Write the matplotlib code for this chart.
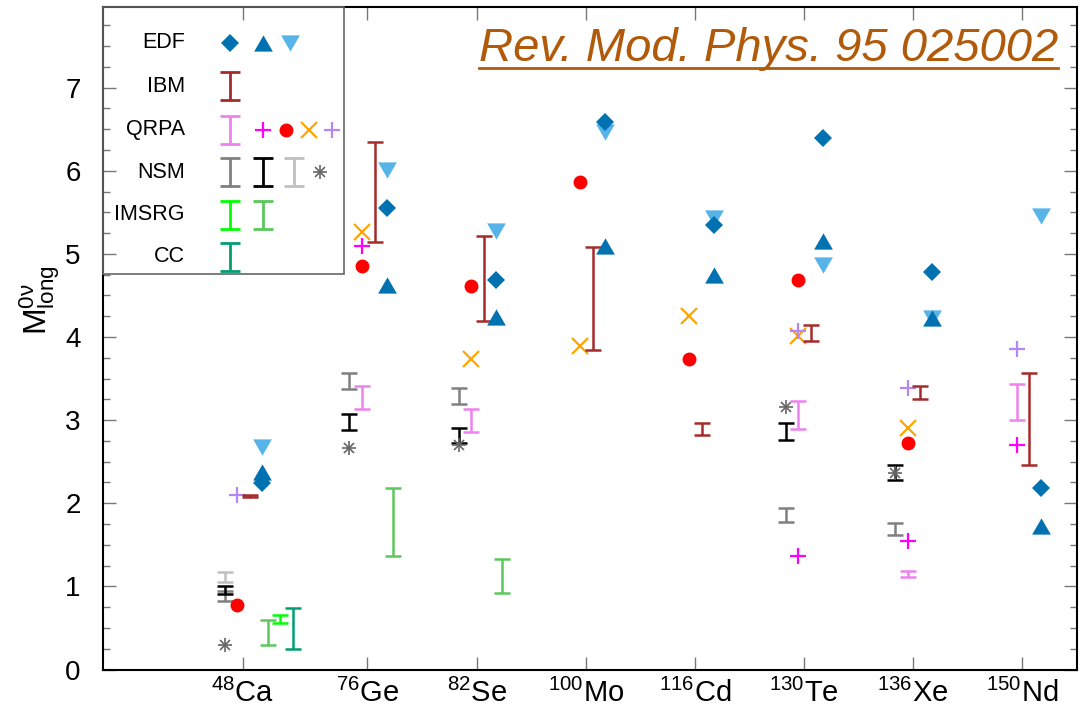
import numpy as np
import matplotlib
matplotlib.use('Agg')
import matplotlib.pyplot as plt
from matplotlib.path import Path
from matplotlib.patches import Rectangle
from matplotlib.ticker import MultipleLocator
from matplotlib.lines import Line2D

plt.rcParams['font.family'] = ['Liberation Sans', 'DejaVu Sans']
plt.rcParams['mathtext.fontset'] = 'custom'
plt.rcParams['mathtext.rm'] = 'Liberation Sans'
plt.rcParams['mathtext.it'] = 'Liberation Sans:italic'

nan = np.nan

# nuclei, left to right
elements = ['Ca', 'Ge', 'Se', 'Mo', 'Cd', 'Te', 'Xe', 'Nd']
masses = ['48', '76', '82', '100', '116', '130', '136', '150']

# EDF
edf_diamond = [2.24, 5.55, 4.68, 6.59, 5.35, 6.40, 4.78, 2.18]
edf_up = [2.38, 4.63, 4.24, 5.10, 4.75, 5.15, 4.23, 1.73]
edf_down = [2.68, 6.01, 5.28, 6.47, 5.43, 4.87, 4.23, 5.45]

# IBM (ranges)
ibm_lo = [2.08, 5.14, 4.19, 3.84, 2.82, 3.95, 3.25, 2.46]
ibm_hi = [2.10, 6.34, 5.21, 5.08, 2.97, 4.15, 3.41, 3.57]

# QRPA
qrpa_lo = [nan, 3.13, 2.86, nan, nan, 2.89, 1.11, 3.00]
qrpa_hi = [nan, 3.41, 3.13, nan, nan, 3.23, 1.19, 3.43]
qrpa_plus = [nan, 5.09, nan, nan, nan, 1.37, 1.54, 2.70]
qrpa_dot = [0.77, 4.85, 4.61, 5.87, 3.73, 4.68, 2.72, nan]
qrpa_cross = [nan, 5.26, 3.73, 3.89, 4.25, 4.01, 2.90, nan]
qrpa_plus2 = [2.10, nan, nan, nan, nan, 4.07, 3.39, 3.85]

# NSM
nsm_grey_lo = [0.82, 3.37, 3.19, nan, nan, 1.78, 1.62, nan]
nsm_grey_hi = [0.95, 3.57, 3.39, nan, nan, 1.94, 1.76, nan]
nsm_black_lo = [0.91, 2.88, 2.73, nan, nan, 2.76, 2.28, nan]
nsm_black_hi = [1.01, 3.07, 2.90, nan, nan, 2.96, 2.46, nan]
nsm_silver_lo = [1.05, nan, nan, nan, nan, nan, nan, nan]
nsm_silver_hi = [1.17, nan, nan, nan, nan, nan, nan, nan]
nsm_star = [0.29, 2.66, 2.70, nan, nan, 3.16, 2.36, nan]

# IMSRG
imsrg_lo = [0.29, 1.37, 0.92, nan, nan, nan, nan, nan]
imsrg_hi = [0.59, 2.18, 1.33, nan, nan, nan, nan, nan]
imsrg2_lo = [0.56, nan, nan, nan, nan, nan, nan, nan]
imsrg2_hi = [0.65, nan, nan, nan, nan, nan, nan, nan]

# CC
cc_lo = [0.25, nan, nan, nan, nan, nan, nan, nan]
cc_hi = [0.74, nan, nan, nan, nan, nan, nan, nan]

# layout
tick_x = np.array([1.28, 2.424, 3.424, 4.424, 5.424, 6.424, 7.424, 8.424])
off_nsm, off_qrpa, off_ibm, off_edf = -0.165, -0.05, 0.065, 0.175
off_imsrg, off_imsrg2, off_cc = 0.235, 0.342, 0.459

C_EDF = '#0072B2'
C_EDF2 = '#56B4E9'
C_IBM = '#A52A2A'
C_QBAR = '#EE82EE'
C_MAG = '#FF00FF'
C_RED = '#FF0000'
C_ORA = '#FFA500'
C_LAV = '#B586F5'
C_GREY = '#808080'
C_SILVER = '#C0C0C0'
C_STAR = '#666666'
C_LIME = '#00FF00'
C_GREEN = '#5CC85C'
C_CC = '#009E73'

tri_up = Path([(-1, -0.866), (1, -0.866), (0, 0.866), (-1, -0.866)])
tri_down = Path([(-1, 0.866), (1, 0.866), (0, -0.866), (-1, 0.866)])
ibar = Path([(-1, -1.35), (1, -1.35), (0, -1.35), (0, 1.35), (-1, 1.35), (1, 1.35)],
            [Path.MOVETO, Path.LINETO, Path.MOVETO, Path.LINETO, Path.MOVETO, Path.LINETO])

fig = plt.figure(figsize=(10.83, 7.18), dpi=100)
ax = fig.add_axes([103 / 1083, (718 - 669.5) / 718, 974 / 1083, 662.5 / 718])


def bars(off, lo, hi, color):
    lo = np.asarray(lo, float)
    hi = np.asarray(hi, float)
    ok = ~np.isnan(lo)
    ax.errorbar(tick_x[ok] + off, (lo[ok] + hi[ok]) / 2, yerr=(hi[ok] - lo[ok]) / 2,
                fmt='none', ecolor=color, elinewidth=1.8, capsize=6, capthick=1.8)


def points(off, vals, **kw):
    ax.plot(tick_x + off, vals, ls='none', **kw)


def star(x, y, **kw):
    ax.plot(x, y, ls='none', marker='+', ms=10, mew=1.2, color=C_STAR, **kw)
    ax.plot(x, y, ls='none', marker='x', ms=7.5, mew=1.2, color=C_STAR, **kw)


# NSM
bars(off_nsm, nsm_silver_lo, nsm_silver_hi, C_SILVER)
bars(off_nsm, nsm_grey_lo, nsm_grey_hi, C_GREY)
bars(off_nsm, nsm_black_lo, nsm_black_hi, 'black')
star(tick_x + off_nsm, nsm_star)

# QRPA
bars(off_qrpa, qrpa_lo, qrpa_hi, C_QBAR)
points(off_qrpa, qrpa_dot, marker='o', ms=9, color=C_RED)
points(off_qrpa, qrpa_cross, marker='x', ms=11.5, mew=1.6, color=C_ORA)
points(off_qrpa, qrpa_plus, marker='+', ms=11, mew=1.6, color=C_MAG)
points(off_qrpa, qrpa_plus2, marker='+', ms=11, mew=1.6, color=C_LAV)

# IBM
bars(off_ibm, ibm_lo, ibm_hi, C_IBM)

# EDF
points(off_edf, edf_down, marker=tri_down, ms=13.5, color=C_EDF2, mew=0)
points(off_edf, edf_up, marker=tri_up, ms=13.5, color=C_EDF, mew=0)
points(off_edf, edf_diamond, marker='D', ms=9.5, color=C_EDF, mew=0)

# IMSRG, CC
bars(off_imsrg, imsrg_lo, imsrg_hi, C_GREEN)
bars(off_imsrg2, imsrg2_lo, imsrg2_hi, C_LIME)
bars(off_cc, cc_lo, cc_hi, C_CC)

ax.set_xlim(0, 8.927)
ax.set_ylim(0, 7.97)
ax.set_xticks(tick_x)
ax.set_xticklabels([r'$\mathregular{^{%s}%s}$' % (m, e) for m, e in zip(masses, elements)],
                   fontsize=21)
ax.set_yticks(range(8))
ax.yaxis.set_minor_locator(MultipleLocator(0.25))
ax.tick_params(axis='y', labelsize=20, pad=16)
ax.tick_params(axis='x', pad=7)
ax.tick_params(which='both', direction='in', top=True, right=True, color='#777777')
ax.tick_params(which='major', length=9.5, width=1)
ax.tick_params(which='minor', length=5, width=1)
for s in ax.spines.values():
    s.set_linewidth(1.5)
ax.set_ylabel(r'$\mathregular{M^{0\nu}_{long}}$', fontsize=23)
ax.yaxis.set_label_coords(-0.042, 0.558)


# legend box drawn by hand, in axes fraction
def axf(px, py):
    return (px - 103) / 974, (669.5 - py) / 662.5


ax.add_patch(Rectangle((0, axf(0, 274.3)[1]), axf(344, 0)[0], 1 - axf(0, 274.3)[1],
                       transform=ax.transAxes, fill=False, edgecolor='#666666', lw=1.2,
                       clip_on=False, zorder=5))
rows = {'EDF': 42.7, 'IBM': 86, 'QRPA': 130, 'NSM': 172, 'IMSRG': 215, 'CC': 257}
for name, py in rows.items():
    tx, ty = axf(185, py)
    ax.text(tx, ty, name, transform=ax.transAxes, ha='right', va='center', fontsize=15.5)


def leg(px, py, **kw):
    x, y = axf(px, py)
    ax.plot([x], [y], transform=ax.transAxes, ls='none', clip_on=False, **kw)


def leg_bar(px, py, color):
    leg(px, py, marker=ibar, ms=19.5, mew=2, mfc='none', mec=color)


y = rows['EDF']
leg(230, y, marker='D', ms=9.5, color=C_EDF, mew=0)
leg(262.7, y, marker=tri_up, ms=13.5, color=C_EDF, mew=0)
leg(290, y, marker=tri_down, ms=13.5, color=C_EDF2, mew=0)
leg_bar(230, rows['IBM'], C_IBM)
y = rows['QRPA']
leg_bar(230, y, C_QBAR)
leg(262.7, y, marker='+', ms=11, mew=1.6, color=C_MAG)
leg(285.7, y, marker='o', ms=9, color=C_RED)
leg(309, y, marker='x', ms=11.5, mew=1.6, color=C_ORA)
leg(332, y, marker='+', ms=11, mew=1.6, color=C_LAV)
y = rows['NSM']
leg_bar(230, y, C_GREY)
leg_bar(262.7, y, 'black')
leg_bar(294, y, C_SILVER)
leg(320, y, marker='+', ms=10, mew=1.2, color=C_STAR)
leg(320, y, marker='x', ms=7.5, mew=1.2, color=C_STAR)
y = rows['IMSRG']
leg_bar(230, y, C_LIME)
leg_bar(262.7, y, C_GREEN)
leg_bar(230, rows['CC'], C_CC)

# reference tag, underlined
title_c = '#B05A0A'
tx, ty = axf(1058, 61)
tag = ax.text(tx, ty, 'Rev. Mod. Phys. 95 025002', transform=ax.transAxes, ha='right',
              va='baseline', fontsize=34, style='italic', color=title_c)
fig.canvas.draw()
bb = tag.get_window_extent(fig.canvas.get_renderer())
base = ax.transAxes.transform((tx, ty))[1] - 7
inv = fig.transFigure.inverted()
(x0, yb), (x1, _) = inv.transform([(bb.x0, base), (bb.x1, base)])
fig.add_artist(Line2D([x0, x1], [yb, yb], color=title_c, lw=2, transform=fig.transFigure))

fig.savefig('out.png', dpi=100)
